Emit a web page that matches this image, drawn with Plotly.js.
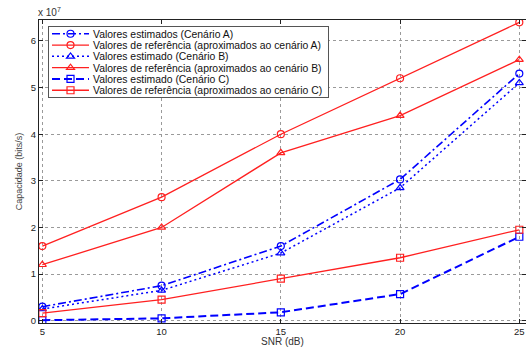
<!DOCTYPE html>
<html><head><meta charset="utf-8">
<script src="https://cdn.plot.ly/plotly-3.0.1.min.js"></script>
<style>html,body{margin:0;padding:0;overflow:hidden;background:#fff}#chart{width:526px;height:349px}</style>
</head><body><div id="chart"></div>
<script>
// SNR (dB)
var snr = [5, 10, 15, 20, 25];
// Capacity in units of 1e7 bits/s
var estA = [0.30, 0.75, 1.60, 3.03, 5.30];
var refA = [1.60, 2.65, 4.00, 5.20, 6.40];
var estB = [0.25, 0.65, 1.45, 2.85, 5.10];
var refB = [1.20, 2.00, 3.60, 4.40, 5.60];
var estC = [0.01, 0.05, 0.18, 0.57, 1.80];
var refC = [0.16, 0.45, 0.90, 1.35, 1.95];
var names = [
  'Valores estimados (Cenário A)',
  'Valores de referência (aproximados ao cenário A)',
  'Valores estimado (Cenário B)',
  'Valores de referência (aproximados ao cenário B)',
  'Valores estimado (Cenário C)',
  'Valores de referência (aproximados ao cenário C)'
];
var xTicks = [5, 10, 15, 20, 25];
var yTicks = [0, 1, 2, 3, 4, 5, 6];

var BLUE = '#0000ff', RED = '#ff2020';
function tr(y, name, color, dash, width, symbol) {
  return {x: snr, y: y, name: name, type: 'scatter', mode: 'lines+markers',
    line: {color: color, dash: dash, width: width},
    marker: {symbol: symbol, size: 7, color: color, line: {color: color, width: 1.2}}};
}
var traces = [
  tr(estA, names[0], BLUE, '8px,3px,2px,3px', 1.6, 'circle-open'),
  tr(refA, names[1], RED, 'solid', 1.3, 'circle-open'),
  tr(estB, names[2], BLUE, '2px,3px', 1.5, 'triangle-up-open'),
  tr(refB, names[3], RED, 'solid', 1.3, 'triangle-up-open'),
  tr(estC, names[4], BLUE, '8px,4px', 2, 'square-open'),
  tr(refC, names[5], RED, 'solid', 1.3, 'square-open')
];
var FONT = 'Liberation Sans, Arial, Helvetica, sans-serif';
var axisCommon = {
  showgrid: true, gridcolor: '#9a9a9a', griddash: 'dot', gridwidth: 1,
  showline: true, linecolor: '#222', linewidth: 1, mirror: 'ticks',
  ticks: 'inside', ticklen: 4, tickcolor: '#222', zeroline: false,
  tickfont: {family: FONT, size: 9.5, color: '#222'}
};
var layout = {
  width: 526, height: 349,
  margin: {l: 39, r: 0, t: 20, b: 26, pad: 0},
  paper_bgcolor: '#fff', plot_bgcolor: '#fff',
  font: {family: FONT, size: 10, color: '#222'},
  showlegend: true,
  legend: {x: 0.0185, y: 0.98, xanchor: 'left', yanchor: 'top',
    bgcolor: '#fff', bordercolor: '#555', borderwidth: 1,
    font: {family: FONT, size: 10.4, color: '#111'}, tracegroupgap: 0},
  xaxis: Object.assign({}, axisCommon, {range: [4.86, 25.28], tickvals: xTicks, ticktext: xTicks.map(String)}),
  yaxis: Object.assign({}, axisCommon, {range: [-0.05, 6.45], tickvals: yTicks, ticktext: yTicks.map(String),
    title: {text: 'Capacidade (bits/s)', font: {family: FONT, size: 9, color: '#444'}, standoff: 6}}),
  annotations: [
    {text: 'x 10<sup>7</sup>', xref: 'paper', yref: 'paper', x: 0, y: 1,
      xanchor: 'left', yanchor: 'bottom', showarrow: false, xshift: -3,
      font: {family: FONT, size: 10, color: '#333'}},
    {text: 'SNR (dB)', xref: 'paper', yref: 'paper', x: 0.5, y: -0.0627,
      xanchor: 'center', yanchor: 'middle', showarrow: false,
      font: {family: FONT, size: 10, color: '#333'}}
  ]
};
function fixLegend(gd) {
  var leg = gd.querySelector('.legend');
  if (!leg) return;
  var items = leg.querySelectorAll('.traces');
  items.forEach(function (el, i) {
    var t = el.getAttribute('transform') || '';
    var m = /translate\(\s*([-\d.]+)[ ,]+([-\d.]+)\s*\)/.exec(t);
    var tx = m ? m[1] : 1;
    el.setAttribute('transform', 'translate(' + tx + ',' + (7.7 + i * 11.3) + ')');
    var txt = el.querySelector('.legendtext');
    if (txt) txt.setAttribute('x', 44);
    el.querySelectorAll('.legendlines path, .js-line').forEach(function (p) {
      p.setAttribute('d', 'M3,0h37');
    });
    el.querySelectorAll('.legendpoints path, .scatterpts').forEach(function (p) {
      var pt = p.getAttribute('transform');
      if (pt && /translate/.test(pt)) p.setAttribute('transform', 'translate(21.5,0)');
    });
  });
  var bg = leg.querySelector('.bg');
  if (bg) {
    bg.setAttribute('height', 71);
    var w = parseFloat(bg.getAttribute('width'));
    if (w) bg.setAttribute('width', w + 4);
  }
}
Plotly.newPlot('chart', traces, layout, {staticPlot: true}).then(function (gd) {
  fixLegend(gd);
});
</script></body></html>
